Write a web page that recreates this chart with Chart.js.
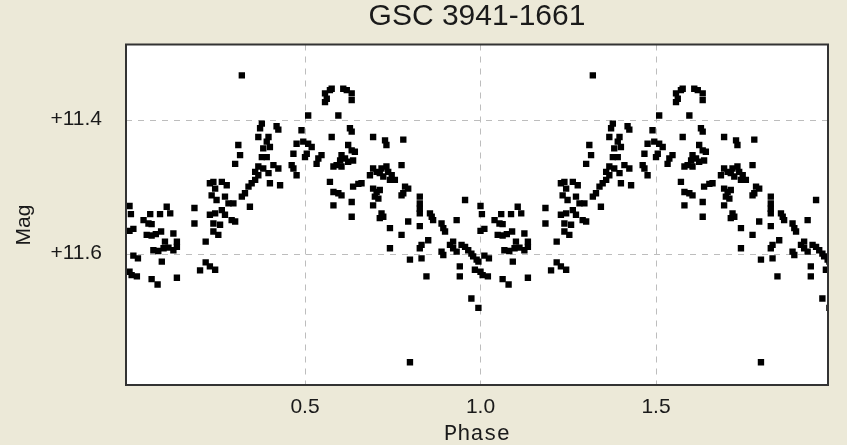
<!DOCTYPE html>
<html>
<head>
<meta charset="utf-8">
<script src="https://cdn.jsdelivr.net/npm/chart.js@4.4.1/dist/chart.umd.min.js"></script>
<style>
    html, body { margin: 0; padding: 0; background: #ECE9D8; }
</style>
</head>
<body>
<canvas id="lightcurve" width="847" height="445"></canvas>
<script>
var _chart = null;

// folded observations, phase 0..1 (the plot shows them twice)
var _phases = [
    0.000, 0.004, 0.000, 0.011, 0.011, 0.024, 0.000, 0.006, 0.021, 0.040,
    0.054, 0.063, 0.059, 0.049, 0.063, 0.075, 0.090, 0.087, 0.106, 0.116,
    0.125, 0.068, 0.082, 0.097, 0.111, 0.125, 0.135, 0.101, 0.135, 0.092,
    0.063, 0.080, 0.135, 0.185, 0.185, 0.201, 0.217, 0.217,
    0.320, 0.377, 0.372, 0.419, 0.424, 0.367, 0.396, 0.391, 0.381, 0.400,
    0.310, 0.315, 0.301, 0.377, 0.391, 0.476, 0.467, 0.462, 0.476, 0.467,
    0.367, 0.381, 0.358, 0.410, 0.424, 0.396, 0.367, 0.358, 0.348, 0.400,
    0.429, 0.339, 0.329, 0.320, 0.343, 0.229, 0.239, 0.263, 0.277, 0.244,
    0.234, 0.272, 0.248, 0.282, 0.296, 0.263, 0.244, 0.229, 0.272, 0.291,
    0.301, 0.239, 0.258, 0.239, 0.253, 0.229, 0.244,
    0.557, 0.562, 0.571, 0.576, 0.557, 0.609, 0.619, 0.633, 0.633, 0.595,
    0.509, 0.490, 0.495, 0.509, 0.519, 0.505, 0.500, 0.576, 0.628, 0.633,
    0.623, 0.633, 0.642, 0.604, 0.614, 0.600, 0.623, 0.637, 0.590, 0.581,
    0.604, 0.547, 0.538, 0.533, 0.571, 0.581, 0.595, 0.604, 0.581, 0.637,
    0.652, 0.661, 0.633, 0.633, 0.694, 0.728, 0.732, 0.685, 0.694, 0.704,
    0.713, 0.723, 0.732, 0.737, 0.747, 0.718, 0.742, 0.694, 0.704, 0.713,
    0.699, 0.709, 0.694, 0.718, 0.723, 0.713, 0.742, 0.742,
    0.780, 0.775, 0.756, 0.785, 0.794, 0.780, 0.775, 0.827, 0.827, 0.827,
    0.827, 0.856, 0.861, 0.794, 0.827, 0.775, 0.851, 0.832, 0.827, 0.832,
    0.799, 0.889, 0.894, 0.899, 0.932, 0.956, 0.889, 0.894, 0.913, 0.922,
    0.922, 0.932, 0.946, 0.956, 0.965, 0.974, 0.979, 0.989, 0.994, 0.941,
    0.941, 0.984, 0.846, 0.974, 0.994, 0.799, 0.865
];
var _mags = [
    11.527, 11.539, 11.564, 11.561, 11.601, 11.605, 11.625, 11.630, 11.632, 11.548,
    11.553, 11.554, 11.539, 11.570, 11.571, 11.569, 11.565, 11.539, 11.528, 11.538,
    11.568, 11.593, 11.594, 11.590, 11.589, 11.593, 11.588, 11.580, 11.580, 11.610,
    11.636, 11.644, 11.634, 11.530, 11.553, 11.623, 11.580, 11.611,
    11.332, 11.404, 11.411, 11.408, 11.413, 11.424, 11.424, 11.431, 11.441, 11.439,
    11.436, 11.451, 11.464, 11.454, 11.454, 11.434, 11.449, 11.466, 11.481, 11.471,
    11.468, 11.471, 11.476, 11.466, 11.471, 11.478, 11.481, 11.488, 11.493, 11.493,
    11.496, 11.498, 11.508, 11.513, 11.528, 11.493, 11.491, 11.491, 11.496, 11.501,
    11.511, 11.513, 11.518, 11.523, 11.523, 11.533, 11.538, 11.540, 11.540, 11.548,
    11.550, 11.553, 11.555, 11.565, 11.570, 11.617, 11.622,
    11.359, 11.367, 11.354, 11.352, 11.372, 11.352, 11.354, 11.359, 11.369, 11.392,
    11.392, 11.414, 11.431, 11.434, 11.439, 11.449, 11.454, 11.424, 11.411, 11.416,
    11.436, 11.444, 11.446, 11.451, 11.456, 11.459, 11.461, 11.459, 11.466, 11.468,
    11.468, 11.451, 11.456, 11.464, 11.491, 11.506, 11.508, 11.511, 11.526, 11.498,
    11.494, 11.493, 11.521, 11.543, 11.424, 11.429, 11.436, 11.481, 11.471, 11.476,
    11.478, 11.483, 11.468, 11.476, 11.481, 11.471, 11.488, 11.501, 11.506, 11.503,
    11.513, 11.516, 11.526, 11.538, 11.543, 11.545, 11.560, 11.590,
    11.428, 11.466, 11.488, 11.498, 11.501, 11.508, 11.511, 11.513, 11.523, 11.531,
    11.538, 11.538, 11.543, 11.550, 11.557, 11.570, 11.578, 11.585, 11.590, 11.605,
    11.607, 11.553, 11.560, 11.565, 11.548, 11.518, 11.595, 11.600, 11.585, 11.580,
    11.590, 11.595, 11.585, 11.588, 11.593, 11.598, 11.602, 11.607, 11.610, 11.617,
    11.632, 11.622, 11.632, 11.665, 11.679, 11.760, 11.548
];
var _xTicks = [0.5, 1.0, 1.5];
var _yTicks = [11.4, 11.6];

// background, frame and the rotated "Mag" label
var _framePlugin = {
    id: 'frame',
    beforeDraw: function (chart) {
        var ctx = chart.ctx, a = chart.chartArea;
        ctx.save();
        ctx.fillStyle = '#ECE9D8';
        ctx.fillRect(0, 0, chart.width, chart.height);
        ctx.fillStyle = '#ffffff';
        ctx.fillRect(a.left, a.top, a.right - a.left, a.bottom - a.top);
        ctx.restore();
    },
    afterDraw: function (chart) {
        var ctx = chart.ctx, a = chart.chartArea;
        ctx.save();
        ctx.strokeStyle = '#333333';
        ctx.lineWidth = 2;
        ctx.strokeRect(a.left, a.top, a.right - a.left, a.bottom - a.top);
        ctx.translate(24, 225);
        ctx.rotate(-Math.PI / 2);
        ctx.fillStyle = '#1a1a1a';
        ctx.font = '21px "Liberation Sans", Arial, sans-serif';
        ctx.textAlign = 'center';
        ctx.textBaseline = 'middle';
        ctx.fillText('Mag', 0, 0);
        ctx.restore();
    }
};

function buildPoints() {
    var pts = [];
    // same cycle drawn at phase and phase + 1
    [0, 1].forEach(function (shift) {
        _phases.forEach(function (p, i) {
            pts.push({ x: p + shift, y: _mags[i] });
        });
    });
    return pts;
}

function renderChart() {
    var ctx = document.getElementById('lightcurve').getContext('2d');
    var gridColor = '#bdbdbd';

    _chart = new Chart(ctx, {
        type: 'scatter',
        data: {
            datasets: [{
                label: 'GSC 3941-1661',
                data: buildPoints(),
                pointStyle: 'rect',
                pointRadius: 4.5,
                pointHoverRadius: 4.5,
                backgroundColor: '#000000',
                borderColor: '#000000',
                borderWidth: 0
            }]
        },
        options: {
            responsive: false,
            animation: false,
            devicePixelRatio: 1,
            layout: { padding: { left: 0, right: 19, top: 0, bottom: 0 } },
            plugins: {
                legend: { display: false },
                tooltip: { enabled: false },
                title: {
                    display: true,
                    text: 'GSC 3941-1661',
                    fullSize: false,
                    color: '#1a1a1a',
                    font: { family: '"Liberation Sans", Arial, sans-serif', size: 30, weight: 'normal', lineHeight: 1.1 },
                    padding: { top: 0, bottom: 11.5 }
                }
            },
            scales: {
                x: {
                    type: 'linear',
                    min: -0.01,
                    max: 1.99,
                    afterFit: function (scale) { scale.height = 60; },
                    afterBuildTicks: function (scale) {
                        scale.ticks = _xTicks.map(function (v) { return { value: v }; });
                    },
                    ticks: {
                        padding: 10,
                        color: '#1a1a1a',
                        font: { family: '"Liberation Sans", Arial, sans-serif', size: 21 },
                        callback: function (value) { return value.toFixed(1); }
                    },
                    grid: { color: gridColor, lineWidth: 1, drawTicks: false },
                    border: { display: false, dash: [6, 6] },
                    title: {
                        display: true,
                        text: 'Phase',
                        color: '#1a1a1a',
                        font: { family: '"Liberation Mono", "Courier New", monospace', size: 22, lineHeight: 1 },
                        padding: { top: 0, bottom: 0 }
                    }
                },
                y: {
                    type: 'linear',
                    reverse: true,
                    min: 11.286,
                    max: 11.794,
                    afterFit: function (scale) { scale.width = 126; },
                    afterBuildTicks: function (scale) {
                        scale.ticks = _yTicks.map(function (v) { return { value: v }; });
                    },
                    ticks: {
                        padding: 24,
                        labelOffset: -2,
                        color: '#1a1a1a',
                        font: { family: '"Liberation Sans", Arial, sans-serif', size: 21 },
                        callback: function (value) { return '+' + value.toFixed(1); }
                    },
                    grid: { color: gridColor, lineWidth: 1, drawTicks: false },
                    border: { display: false, dash: [6, 6] }
                }
            }
        },
        plugins: [_framePlugin]
    });
}

renderChart();
</script>
</body>
</html>
